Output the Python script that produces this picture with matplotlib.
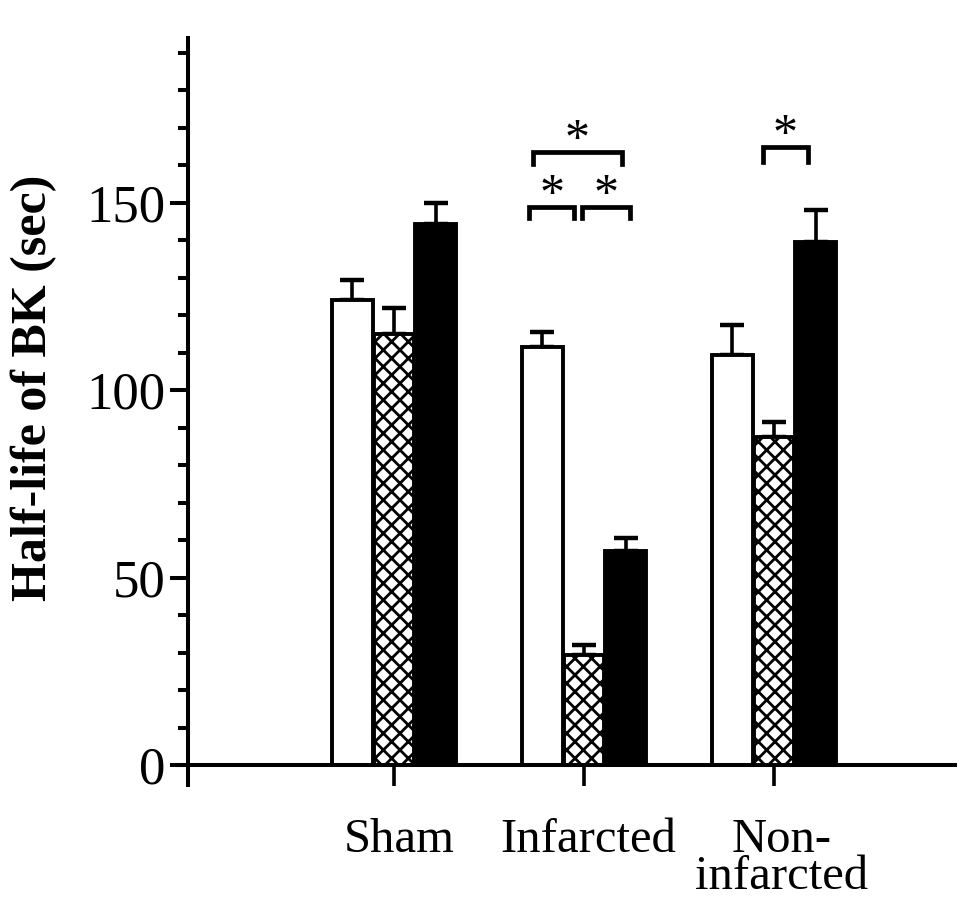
import matplotlib
matplotlib.use("Agg")
import matplotlib.pyplot as plt
import numpy as np

plt.rcParams['font.family'] = ['Liberation Serif', 'DejaVu Serif']
plt.rcParams['hatch.linewidth'] = 2.0

# ---- data ----
groups = ["Sham", "Infarcted", "Non-\ninfarcted"]
control_mean = [124, 111.5, 109.5]
control_err = [5.5, 4.0, 8.0]
hatched_mean = [115, 29.5, 87.5]
hatched_err = [7.0, 2.5, 4.0]
black_mean = [144.5, 57, 139.5]
black_err = [5.5, 3.5, 8.5]

y_major = [0, 50, 100, 150]
y_minor = [10, 20, 30, 40, 60, 70, 80, 90, 110, 120, 130, 140, 160, 170, 180, 190]

fig = plt.figure(figsize=(9.59, 9.0), dpi=100)
ax = fig.add_axes([0.1856, 0.1278, 0.8102, 0.8300])

x = np.arange(len(groups))
w = 0.215
off = 0.22
lw = 2.8
ekw = dict(elinewidth=2.6, capthick=3.2, capsize=8.5, ecolor='black')

ax.bar(x - off, control_mean, w, color='white', edgecolor='black', linewidth=lw, zorder=2)
ax.errorbar(x - off, control_mean, yerr=[np.zeros(3), control_err], fmt='none', zorder=1, **ekw)
ax.bar(x, hatched_mean, w, color='white', edgecolor='black', linewidth=lw, hatch='xx', zorder=2)
ax.errorbar(x, hatched_mean, yerr=[np.zeros(3), hatched_err], fmt='none', zorder=1, **ekw)
ax.bar(x + off, black_mean, w, color='black', edgecolor='black', linewidth=lw, zorder=2)
ax.errorbar(x + off, black_mean, yerr=[np.zeros(3), black_err], fmt='none', zorder=1, **ekw)

# significance brackets
def bracket(x1, x2, y, h, star_y):
    ax.plot([x1, x1, x2, x2], [y - h, y, y, y - h], color='black', lw=3.4,
            solid_joinstyle='miter', zorder=3)
    ax.text((x1 + x2) / 2, star_y, '*', ha='center', va='center', fontsize=36)

bracket(0.71, 0.95, 149, 3.0, 152.0)
bracket(0.99, 1.24, 149, 3.0, 152.0)
bracket(0.73, 1.20, 163.5, 3.0, 166.5)
bracket(1.94, 2.18, 165, 4.0, 168.0)

ax.set_xlim(-1.137, 2.953)
ax.set_ylim(-5.3, 194)

for s in ['top', 'right']:
    ax.spines[s].set_visible(False)
ax.spines['left'].set_position(('data', -1.084))
ax.spines['bottom'].set_position(('data', 0))
ax.spines['left'].set_linewidth(2.9)
ax.spines['bottom'].set_linewidth(2.9)

ax.set_yticks(y_major)
ax.set_yticklabels([str(v) for v in y_major], fontsize=38)
ax.set_yticks(y_minor, minor=True)
ax.tick_params(axis='y', which='major', length=13, width=2.9, direction='out', pad=3)
ax.tick_params(axis='y', which='minor', length=7, width=2.9, direction='out')

ax.set_xticks(x)
ax.set_xticklabels([])
ax.tick_params(axis='x', which='major', length=15, width=2.6, direction='out')

label_x = [0.03, 1.02, 2.04]
for lx, g in zip(label_x, groups):
    ax.text(lx, -14, g, ha='center', va='top', fontsize=35, linespacing=0.82)

fig.text(0.035, 0.569, "Half-life of BK (sec)", rotation=90, ha='center', va='center',
         fontsize=36, fontweight='bold')

fig.savefig("out.png", dpi=100)
